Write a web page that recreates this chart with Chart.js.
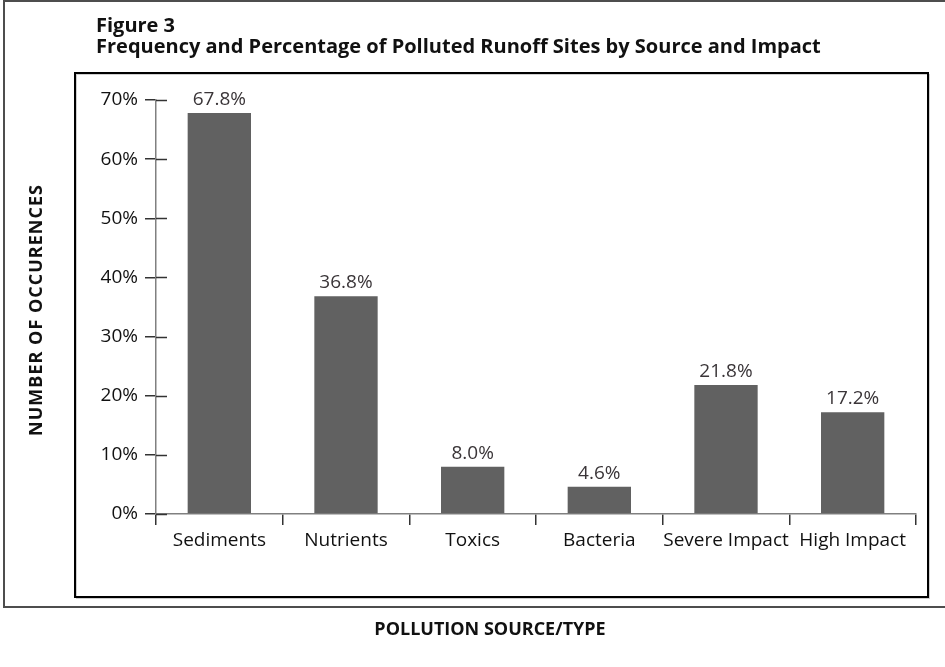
<!DOCTYPE html>
<html>
<head>
<meta charset="utf-8">
<script src="https://cdn.jsdelivr.net/npm/chart.js@4"></script>
<style>
  html, body { margin: 0; padding: 0; background: #fff; }
  #wrap { width: 945px; height: 667px; }
</style>
</head>
<body>
<div id="wrap"><canvas id="runoffChart" width="945" height="667"></canvas></div>
<script>
// chart data
const categories = ['Sediments', 'Nutrients', 'Toxics', 'Bacteria', 'Severe Impact', 'High Impact'];
const percentValues = [67.8, 36.8, 8.0, 4.6, 21.8, 17.2];
const yTicks = [0, 10, 20, 30, 40, 50, 60, 70];

const figureLabel = 'Figure 3';
const figureTitle = 'Frequency and Percentage of Polluted Runoff Sites by Source and Impact';
const yTitle = 'NUMBER OF OCCURENCES';
const xTitle = 'POLLUTION SOURCE/TYPE';

const FONT = "'Open Sans', 'Noto Sans', sans-serif";

const framePlugin = {
  id: 'frame',
  beforeDraw(chart) {
    const ctx = chart.ctx;
    ctx.save();
    ctx.fillStyle = '#fff';
    ctx.fillRect(0, 0, chart.width, chart.height);

    // outer frame
    ctx.strokeStyle = '#4d4d4d';
    ctx.lineWidth = 2;
    ctx.strokeRect(4, 1, 950, 606);

    // inner frame with faint shadow
    ctx.strokeStyle = '#cfcfcf';
    ctx.lineWidth = 1;
    ctx.strokeRect(76.5, 74.5, 853, 524);
    ctx.strokeStyle = '#000';
    ctx.lineWidth = 2;
    ctx.strokeRect(75, 73, 853, 524);

    // headings
    ctx.fillStyle = '#111';
    ctx.textAlign = 'left';
    ctx.textBaseline = 'alphabetic';
    ctx.font = 'bold 20px ' + FONT;
    ctx.fillText(figureLabel, 96, 32);
    ctx.fillText(figureTitle, 96, 53);

    // axis titles
    ctx.font = 'bold 18px ' + FONT;
    ctx.textAlign = 'center';
    ctx.fillText(xTitle, 490, 635);
    ctx.save();
    ctx.translate(42, 310);
    ctx.rotate(-Math.PI / 2);
    ctx.letterSpacing = '1px';
    ctx.fillText(yTitle, 0, 0);
    ctx.restore();
    ctx.restore();
  },
  afterDatasetsDraw(chart) {
    const ctx = chart.ctx;
    const yScale = chart.scales.y;
    ctx.save();
    // inner half of y ticks (they cross the axis)
    ctx.strokeStyle = '#333';
    ctx.lineWidth = 1.5;
    yTicks.forEach(v => {
      const py = Math.round(yScale.getPixelForValue(v)) + 0.5;
      ctx.beginPath();
      ctx.moveTo(yScale.right, py);
      ctx.lineTo(yScale.right + 11, py);
      ctx.stroke();
    });
    // value labels
    const meta = chart.getDatasetMeta(0);
    ctx.fillStyle = '#3a3538';
    ctx.font = '19px ' + FONT;
    ctx.textAlign = 'center';
    ctx.textBaseline = 'alphabetic';
    meta.data.forEach((bar, i) => {
      ctx.fillText(percentValues[i].toFixed(1) + '%', bar.x, bar.y - 8);
    });
    ctx.restore();
  }
};

const ctx = document.getElementById('runoffChart');
new Chart(ctx, {
  type: 'bar',
  data: {
    labels: categories,
    datasets: [{
      data: percentValues,
      backgroundColor: '#616161',
      borderWidth: 0,
      categoryPercentage: 1.0,
      barPercentage: 0.5
    }]
  },
  options: {
    responsive: false,
    animation: false,
    events: [],
    layout: {
      padding: { left: 76, right: 29, top: 100, bottom: 93 }
    },
    plugins: {
      legend: { display: false },
      tooltip: { enabled: false }
    },
    scales: {
      x: {
        afterFit: scale => { scale.height = 60; },
        border: { display: true, color: '#808080', width: 1.5 },
        grid: {
          display: true,
          offset: true,
          drawOnChartArea: false,
          drawTicks: true,
          tickLength: 11,
          color: '#333',
          tickColor: '#333',
          lineWidth: 1.5
        },
        ticks: {
          color: '#111',
          padding: 4,
          font: { family: FONT, size: 19 },
          maxRotation: 0,
          autoSkip: false
        }
      },
      y: {
        min: 0,
        max: 70,
        afterFit: scale => { scale.width = 80; },
        afterBuildTicks: scale => {
          scale.ticks = yTicks.map(v => ({ value: v }));
        },
        border: { display: true, color: '#808080', width: 1.5 },
        grid: {
          display: true,
          drawOnChartArea: false,
          drawTicks: true,
          tickLength: 11,
          color: '#333',
          tickColor: '#333',
          lineWidth: 1.5
        },
        ticks: {
          color: '#111',
          padding: 7,
          font: { family: FONT, size: 19 },
          callback: v => v + '%'
        }
      }
    }
  },
  plugins: [framePlugin]
});
</script>
</body>
</html>
